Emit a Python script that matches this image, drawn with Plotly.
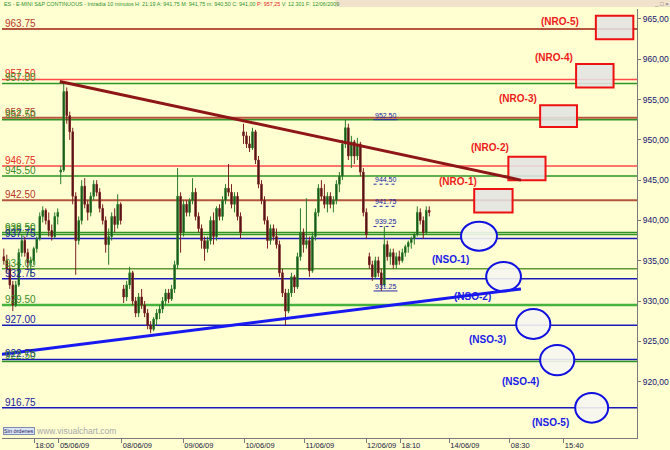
import plotly.graph_objects as go

# ---------------- data ----------------
opens = [935.5, 935.0, 934.0, 932.0, 929.5, 932.0, 936.0, 937.5, 936.0, 934.75,
         935.0, 936.5, 937.75, 940.5, 941.25, 940.0, 938.75, 938.0, 940.5, 946.0,
         946.25, 956.0, 953.0, 951.0, 943.0, 937.5, 940.0, 944.25, 942.0, 941.0,
         943.0, 944.5, 943.5, 941.5, 940.0, 937.0, 938.0, 940.5, 939.5, 942.0,
         931.5, 930.5, 932.0, 933.5, 930.0, 928.5, 930.5, 929.5, 928.5, 927.0,
         926.5, 927.75, 928.5, 929.0, 930.0, 931.0, 930.25, 931.5, 934.5, 943.0,
         938.5, 942.0, 941.0, 942.5, 943.5, 940.5, 939.0, 937.5, 936.5, 937.5,
         940.0, 938.0, 941.5, 940.5, 942.5, 944.0, 943.5, 942.0, 943.0, 940.5,
         951.0, 950.5, 949.5, 949.0, 951.0, 947.5, 944.5, 942.5, 940.0, 937.5,
         939.0, 938.0, 937.0, 933.5, 931.0, 928.75, 931.0, 933.0, 931.75, 935.5,
         938.5, 937.0, 937.5, 933.75, 938.0, 941.0, 944.0, 943.0, 942.0, 943.0,
         942.0, 942.5, 944.5, 945.5, 949.5, 951.5, 948.0, 949.75, 948.0, 949.5,
         946.0, 941.0, 935.5, 934.5, 933.0, 935.0, 933.5, 932.0, 937.0, 935.5,
         936.0, 934.5, 935.5, 935.0, 936.0, 936.75, 937.25, 937.75, 938.25, 941.0,
         940.0, 938.5, 941.25]
highs = [936.5, 935.75, 934.5, 932.5, 932.5, 936.5, 938.25, 938.0, 936.5, 935.5,
         936.75, 938.0, 941.0, 941.75, 941.5, 941.0, 939.5, 941.0, 941.5, 946.75,
         957.25, 956.5, 953.5, 951.5, 943.5, 940.5, 945.0, 945.25, 942.5, 943.5,
         945.0, 945.0, 944.0, 942.0, 940.5, 939.0, 941.0, 941.5, 943.25, 942.25,
         932.0, 932.5, 934.25, 933.75, 930.5, 931.0, 931.5, 930.0, 929.0, 927.5,
         928.0, 929.0, 929.5, 930.5, 931.5, 931.5, 932.0, 935.0, 946.5, 943.5,
         942.5, 942.5, 942.75, 945.25, 944.0, 941.0, 939.5, 938.0, 938.0, 940.5,
         941.0, 941.75, 942.0, 943.0, 944.5, 947.0, 944.5, 943.5, 943.5, 941.0,
         952.0, 951.0, 950.5, 951.5, 951.25, 948.0, 945.0, 943.0, 940.5, 939.5,
         939.5, 939.0, 937.5, 934.0, 931.5, 931.5, 933.5, 933.25, 936.0, 941.5,
         939.0, 942.75, 938.0, 938.5, 941.5, 944.5, 945.0, 944.5, 943.5, 943.5,
         943.0, 945.0, 946.0, 950.0, 952.5, 952.0, 950.5, 950.0, 950.25, 949.75,
         946.5, 941.5, 936.0, 935.0, 935.5, 935.5, 934.0, 939.25, 937.5, 936.5,
         936.5, 936.0, 936.25, 936.5, 937.0, 937.5, 938.0, 938.5, 941.75, 941.5,
         940.5, 941.75, 941.75]
lows = [934.5, 933.5, 931.5, 928.75, 929.25, 931.75, 935.5, 935.5, 934.0, 933.0,
        934.5, 936.0, 937.5, 939.75, 939.5, 938.0, 937.5, 937.75, 939.5, 944.5,
        946.0, 952.0, 950.0, 942.0, 933.25, 937.0, 939.5, 941.5, 940.0, 940.5,
        942.5, 943.0, 941.0, 939.5, 936.0, 934.5, 937.5, 938.5, 939.0, 939.5,
        929.75, 930.0, 931.5, 929.5, 928.0, 928.0, 929.0, 928.0, 926.5, 926.0,
        926.25, 927.0, 927.75, 928.5, 929.5, 929.75, 930.0, 931.0, 934.0, 936.0,
        938.0, 940.5, 940.5, 942.0, 940.0, 938.5, 936.5, 935.0, 936.0, 937.0,
        937.0, 937.5, 940.0, 940.0, 942.0, 943.0, 941.5, 941.0, 940.0, 937.75,
        949.5, 949.0, 948.5, 948.75, 947.0, 944.0, 942.0, 939.5, 936.5, 937.0,
        937.5, 936.5, 933.0, 930.5, 927.0, 928.5, 930.5, 931.0, 931.5, 935.0,
        936.0, 936.5, 933.0, 933.5, 937.5, 940.5, 942.5, 941.5, 941.0, 941.5,
        941.0, 942.0, 943.5, 945.0, 949.0, 947.5, 946.5, 947.0, 947.5, 945.5,
        940.5, 937.75, 934.0, 932.5, 932.75, 933.0, 931.25, 931.75, 935.0, 934.5,
        934.0, 934.0, 934.5, 934.75, 935.5, 936.0, 936.5, 937.0, 938.0, 939.5,
        937.75, 938.25, 940.5]
closes = [935.0, 934.0, 932.0, 929.5, 932.0, 936.0, 937.5, 936.0, 934.75, 935.0,
          936.5, 937.75, 940.5, 941.25, 940.0, 938.75, 938.0, 940.5, 941.0, 946.25,
          956.0, 953.0, 951.0, 943.0, 937.5, 940.0, 944.25, 942.0, 941.0, 943.0,
          944.5, 943.5, 941.5, 940.0, 937.0, 938.0, 940.5, 939.5, 942.0, 940.0,
          930.5, 932.0, 933.5, 930.0, 928.5, 930.5, 929.5, 928.5, 927.0, 926.5,
          927.75, 928.5, 929.0, 930.0, 931.0, 930.25, 931.5, 934.5, 943.0, 938.5,
          942.0, 941.0, 942.5, 943.5, 940.5, 939.0, 937.5, 936.5, 937.5, 940.0,
          938.0, 941.5, 940.5, 942.5, 944.0, 943.5, 942.0, 943.0, 940.5, 938.5,
          950.5, 949.5, 949.0, 951.0, 947.5, 944.5, 942.5, 940.0, 937.5, 939.0,
          938.0, 937.0, 933.5, 931.0, 928.75, 931.0, 933.0, 931.75, 935.5, 938.5,
          937.0, 937.5, 933.75, 938.0, 941.0, 944.0, 943.0, 942.0, 943.0, 942.0,
          942.5, 944.5, 945.5, 949.5, 951.5, 948.0, 949.75, 948.0, 949.5, 946.0,
          941.0, 938.25, 934.5, 933.0, 935.0, 933.5, 932.0, 937.0, 935.5, 936.0,
          934.5, 935.5, 935.0, 936.0, 936.75, 937.25, 937.75, 938.25, 941.0, 940.0,
          938.5, 941.25, 941.0]
bar_index = list(range(len(closes)))

level_values = [963.75, 957.50, 957.00, 952.75, 952.50, 946.75, 945.50, 942.50,
                938.50, 938.25, 937.75, 934.00, 932.75, 929.50, 927.00, 922.75,
                922.50, 916.75]
level_kinds = ["brown", "red", "green", "brown", "green", "red", "green", "brown",
               "green", "green", "blue", "olive", "blue", "lime", "blue", "blue",
               "green", "blue"]
level_labels = ["963.75", "957.50", "957.00", "952.75", "952.50", "946.75", "945.50",
                "942.50", "938.50", "938.25", "937.75", "934.00", "932.75", "929.50",
                "927.00", "922.75", "922.50", "916.75"]

marker_values = [952.50, 944.50, 941.75, 939.25, 931.25]
marker_labels = ["952.50", "944.50", "941.75", "939.25", "931.25"]
marker_dotted = [False, True, True, True, False]
marker_x = [123.4, 131.4]
marker_label_x = 127.7

trend_red_x = [18.7, 172.6]
trend_red_y = [957.25, 945.0]
trend_blue_x = [-0.6, 172.6]
trend_blue_y = [923.4, 931.5]

nro_labels = ["(NRO-1)", "(NRO-2)", "(NRO-3)", "(NRO-4)", "(NRO-5)"]
nro_x0 = [157.0, 168.4, 179.0, 191.0, 197.6]
nro_x1 = [169.8, 180.8, 191.3, 203.5, 210.1]
nro_y0 = [941.0, 945.0, 951.6, 956.5, 962.5]
nro_y1 = [943.9, 947.9, 954.3, 959.4, 965.4]
nro_label_x = [151.5, 162.2, 171.7, 183.6, 185.7]
nro_label_y = [944.8, 949.0, 955.15, 960.25, 964.75]

nso_labels = ["(NSO-1)", "(NSO-2)", "(NSO-3)", "(NSO-4)", "(NSO-5)"]
nso_x0 = [152.6, 161.0, 171.0, 179.0, 190.7]
nso_x1 = [164.6, 172.6, 182.4, 190.4, 201.7]
nso_y0 = [936.25, 931.2, 925.3, 920.8, 914.9]
nso_y1 = [939.85, 934.85, 929.0, 924.55, 918.6]
nso_label_x = [149.1, 156.5, 161.4, 172.6, 182.6]
nso_label_y = [935.1, 930.5, 925.2, 920.0, 914.9]

x_tick_positions = [10.2, 18.4, 39.4, 59.9, 80.3, 100.4, 120.9, 132.4, 148.7, 168.9, 186.9]
x_tick_labels = ["18:00", "05/06/09", "08/06/09", "09/06/09", "10/06/09", "11/06/09",
                 "12/06/09", "18:10", "14/06/09", "08:30", "15:40"]
y_tick_values = [920, 925, 930, 935, 940, 945, 950, 955, 960, 965]
y_tick_labels = ["920,00", "925,00", "930,00", "935,00", "940,00", "945,00",
                 "950,00", "955,00", "960,00", "965,00"]

# ---------------- styles ----------------
BG = "#ffffd2"
line_style = {
    "brown": ("#b5553c", "#b8372a", 2),
    "red": ("#ff4a4a", "#e82a20", 1.5),
    "green": ("#2f9424", "#3a8a28", 1.5),
    "olive": ("#5e9a34", "#3a8a28", 1.5),
    "lime": ("#46b43c", "#3a8a28", 2.5),
    "blue": ("#1a1ab8", "#1c1c9c", 1.5),
}

fig = go.Figure()

fig.add_trace(go.Candlestick(
    x=bar_index, open=opens, high=highs, low=lows, close=closes,
    increasing=dict(line=dict(color="#2a7a2a", width=1), fillcolor="#143a14"),
    decreasing=dict(line=dict(color="#7a2020", width=1), fillcolor="#301010"),
    whiskerwidth=0, hoverinfo="skip", showlegend=False,
))
fig.add_trace(go.Scatter(x=trend_red_x, y=trend_red_y, mode="lines",
                         line=dict(color="#8e1616", width=3), showlegend=False,
                         hoverinfo="skip"))
fig.add_trace(go.Scatter(x=trend_blue_x, y=trend_blue_y, mode="lines",
                         line=dict(color="#1818f0", width=3), showlegend=False,
                         hoverinfo="skip"))

shapes = []
annotations = []

# top title strip
shapes.append(dict(type="rect", xref="paper", yref="paper",
                   x0=0.525, x1=1.06, y0=1.0047, y1=1.025,
                   fillcolor="#f2e2cc", line=dict(width=0), layer="below"))

for v, k, t in zip(level_values, level_kinds, level_labels):
    lc, tc, w = line_style[k]
    shapes.append(dict(type="line", xref="paper", yref="y", x0=0, x1=1, y0=v, y1=v,
                       line=dict(color=lc, width=w), layer="below"))
    annotations.append(dict(x=0.0016, xref="paper", y=v, yref="y", text=t,
                            showarrow=False, xanchor="left", yanchor="bottom",
                            yshift=-2,
                            font=dict(family="Arial", size=10, color=tc)))

for v, t, dotted in zip(marker_values, marker_labels, marker_dotted):
    shapes.append(dict(type="line", xref="x", yref="y", x0=marker_x[0], x1=marker_x[1],
                       y0=v, y1=v, layer="below",
                       line=dict(color="#2828a8", width=1,
                                 dash="dot" if dotted else "solid")))
    annotations.append(dict(x=marker_label_x, y=v, text=t, showarrow=False,
                            yanchor="bottom", yshift=-1,
                            font=dict(family="Arial", size=7, color="#2020a0")))

for x0, x1, y0, y1 in zip(nro_x0, nro_x1, nro_y0, nro_y1):
    shapes.append(dict(type="rect", xref="x", yref="y", x0=x0, x1=x1, y0=y0, y1=y1,
                       fillcolor="rgba(228,228,228,0.88)",
                       line=dict(color="#ee1111", width=2), layer="below"))
for t, x, y in zip(nro_labels, nro_label_x, nro_label_y):
    annotations.append(dict(x=x, y=y, text="<b>" + t + "</b>", showarrow=False,
                            font=dict(family="Arial", size=10, color="#ee1a1a")))

for x0, x1, y0, y1 in zip(nso_x0, nso_x1, nso_y0, nso_y1):
    shapes.append(dict(type="circle", xref="x", yref="y", x0=x0, x1=x1, y0=y0, y1=y1,
                       fillcolor="rgba(246,246,240,0.9)",
                       line=dict(color="#1010e0", width=2), layer="below"))
for t, x, y in zip(nso_labels, nso_label_x, nso_label_y):
    annotations.append(dict(x=x, y=y, text="<b>" + t + "</b>", showarrow=False,
                            font=dict(family="Arial", size=10, color="#1a1ae6")))

header = ('<span style="color:#2f8f2f">ES - E-MINI S&amp;P CONTINUOUS - Intradía 10 minutos '
          'H: 21:19 A: 941,75 M: 941,75 m: 940,50 C: 941,00 </span>'
          '<span style="color:#e01818">P: 957,25</span>'
          '<span style="color:#2f8f2f"> V: 12.301 F: 12/06/2009</span>')
annotations.append(dict(x=0.0, xref="paper", y=1.0105, yref="paper", text=header,
                        showarrow=False, xanchor="left", yanchor="middle",
                        font=dict(family="Arial", size=5.4)))
annotations.append(dict(x=1.038, xref="paper", y=1.012, yref="paper", text="_ □ ×",
                        showarrow=False, xanchor="center", yanchor="middle",
                        font=dict(family="Arial", size=6, color="#707070")))
annotations.append(dict(x=0.0016, xref="paper", y=0.017, yref="paper", text="Sin órdenes",
                        showarrow=False, xanchor="left", yanchor="middle",
                        bgcolor="#dce3f2", bordercolor="#7f8fb0", borderwidth=1, borderpad=0,
                        font=dict(family="Arial", size=5.5, color="#202060")))
annotations.append(dict(x=0.05, xref="paper", y=0.016, yref="paper", text="www.visualchart.com",
                        showarrow=False, xanchor="left", yanchor="middle",
                        font=dict(family="Arial", size=8.5, color="#a8a8a8")))

fig.update_layout(
    width=670, height=450,
    margin=dict(l=2, r=33, t=9, b=12),
    paper_bgcolor=BG, plot_bgcolor=BG,
    shapes=shapes, annotations=annotations,
    showlegend=False,
    xaxis=dict(range=[-0.6, 211.33], rangeslider=dict(visible=False),
               showgrid=False, zeroline=False, showline=True, linecolor="#7a7a7a",
               linewidth=1, ticks="outside", ticklen=4, tickcolor="#7a7a7a",
               tickvals=x_tick_positions, ticktext=x_tick_labels, tickangle=0,
               ticklabelposition="outside right", automargin=False,
               tickfont=dict(family="Arial", size=7.5, color="#1a1a40")),
    yaxis=dict(range=[913.0, 966.24], side="right", showgrid=False, zeroline=False,
               showline=True, linecolor="#7a7a7a", linewidth=1, ticks="outside",
               ticklen=3, tickcolor="#7a7a7a", tickvals=y_tick_values,
               ticktext=y_tick_labels, automargin=False,
               tickfont=dict(family="Arial", size=8.5, color="#14146e")),
)

fig.write_html("out.html", config={"displayModeBar": False},
               post_script="document.body.style.margin='0';document.body.style.overflow='hidden';")
